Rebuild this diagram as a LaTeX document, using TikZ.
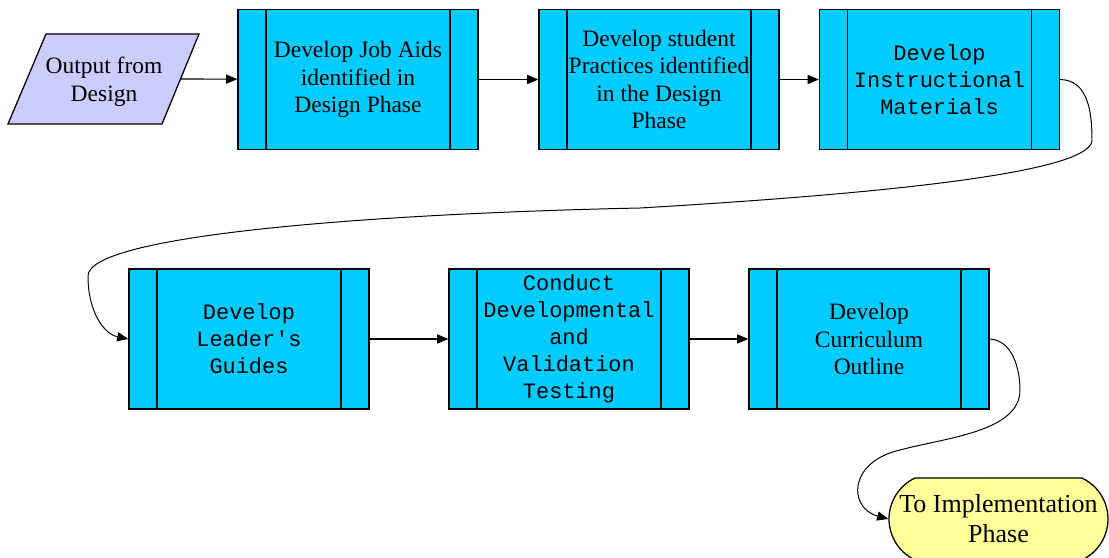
\documentclass[tikz,border=0pt]{standalone}
\usepackage{fontspec}
\setmainfont{Liberation Serif}
\newfontfamily\courierfont{Liberation Mono}
\usetikzlibrary{arrows.meta,shapes.misc}
\definecolor{boxcyan}{HTML}{00CCFF}
\definecolor{paralav}{HTML}{CCCCFF}
\definecolor{ovalyel}{HTML}{FFFF99}
\tikzset{
  procbox/.style={draw, line width=0.9pt, fill=boxcyan, minimum width=6cm, minimum height=3.5cm,
    align=center, inner sep=0pt,
    path picture={
      \draw[line width=0.9pt] ([xshift=0.7cm]path picture bounding box.north west) -- ([xshift=0.7cm]path picture bounding box.south west);
      \draw[line width=0.9pt] ([xshift=-0.7cm]path picture bounding box.north east) -- ([xshift=-0.7cm]path picture bounding box.south east);}},
  serif text/.style={font=\fontsize{16.7}{19.6}\selectfont},
  mono text/.style={font=\courierfont\fontsize{15.6}{19.2}\selectfont},
  ovalbox/.style={draw, line width=0.9pt, fill=ovalyel, rounded rectangle, rounded rectangle arc length=130,
    minimum width=5.475cm, minimum height=2.05cm, align=center, inner sep=0pt,
    font=\fontsize{18.5}{21.3}\selectfont},
  paragon/.style={draw, line width=0.9pt, fill=paralav},
  flow/.style={-{Triangle[length=8pt,width=6.5pt]}, line width=0.8pt},
  curvy/.style={-{Triangle[length=8pt,width=6.5pt]}, line width=0.7pt}
}
\begin{document}
\begin{tikzpicture}
\useasboundingbox (0,0) rectangle (27.725,-13.95);

\draw[paragon] (0.2,-3.1) -- (4.05,-3.1) -- (4.975,-0.85) -- (1.15,-0.85) -- cycle;
\node[serif text, align=center] (output) at (2.6,-2.05) {Output from\\Design};
\coordinate (outputR) at (4.5125,-1.975);

\node[procbox, serif text] (jobaids) at (8.95,-1.9875) {Develop Job Aids\\identified in\\Design Phase};
\node[procbox, serif text] (practices) at (16.475,-1.9875) {Develop student\\Practices identified\\in the Design\\Phase};
\node[procbox, mono text] (materials) at (23.4875,-1.9875) {Develop\\Instructional\\Materials};

\node[procbox, mono text] (guides) at (6.225,-8.475) {Develop\\Leader's\\Guides};
\node[procbox, mono text] (testing) at (14.225,-8.475) {Conduct\\Developmental\\and\\Validation\\Testing};
\node[procbox, serif text] (outline) at (21.725,-8.475) {Develop\\Curriculum\\Outline};

\node[ovalbox] (implement) at (24.9625,-12.975) {To Implementation\\Phase};

\draw[flow] (outputR) -- (jobaids);
\draw[flow] (jobaids) -- (practices);
\draw[flow] (practices) -- (materials);
\draw[flow] (guides) -- (testing);
\draw[flow] (testing) -- (outline);

\draw[curvy] (materials.east) .. controls (27.2,-2.0) and (27.3,-2.8) .. (27.3,-3.5)
  .. controls (27.3,-4.1) and (24.5,-4.7) .. (16.0,-5.2)
  .. controls (9.0,-5.35) and (2.2,-5.9) .. (2.2,-6.9)
  .. controls (2.2,-7.8) and (2.6,-8.35) .. (guides.west);
\draw[curvy] (outline.east) .. controls (25.3,-8.5) and (25.5,-9.2) .. (25.5,-9.75)
  .. controls (25.5,-10.8) and (23.6,-10.95) .. (22.5,-11.25)
  .. controls (21.2,-11.55) and (21.2,-12.7) .. (implement.west);
\end{tikzpicture}
\end{document}
